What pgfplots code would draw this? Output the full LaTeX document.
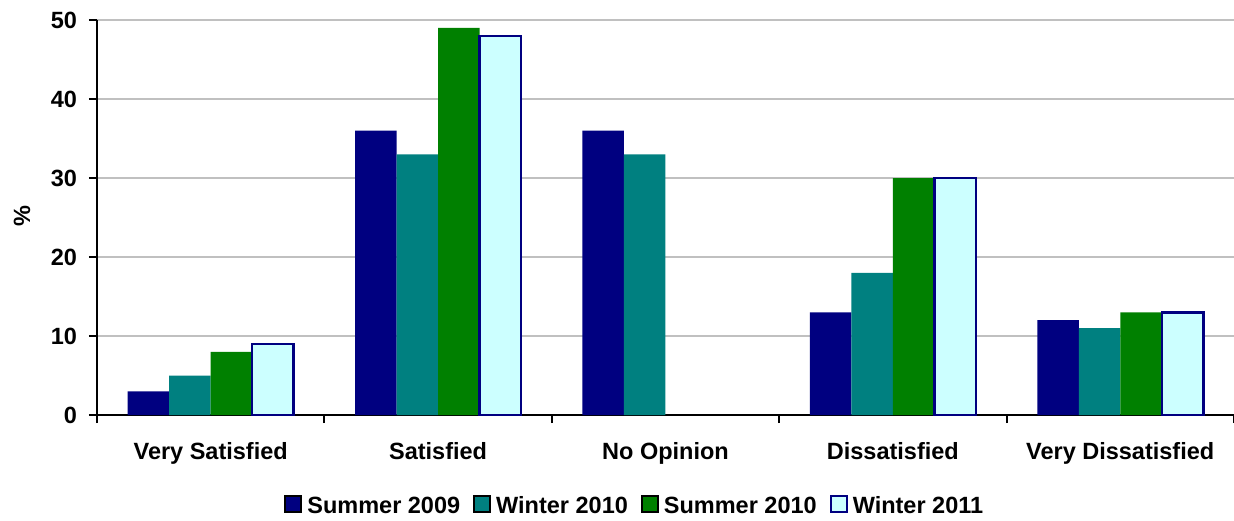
\documentclass[border=0pt]{standalone}
\usepackage{fontspec}
\setmainfont{Liberation Sans}
\usepackage{pgfplots}
\pgfplotsset{compat=1.18}

\definecolor{sumA}{HTML}{000080}
\definecolor{winA}{HTML}{008080}
\definecolor{sumB}{HTML}{008000}
\definecolor{winB}{HTML}{CCFFFF}
\definecolor{gridgray}{HTML}{C0C0C0}

\begin{document}
\fontsize{23.5pt}{28pt}\selectfont\bfseries
\begin{tikzpicture}
\begin{axis}[
  at={(97pt,105pt)}, anchor=south west,
  scale only axis, width=1137pt, height=395pt,
  xmin=-0.5, xmax=4.5, ymin=0, ymax=50,
  ybar=0pt, bar width=41.5pt,
  axis x line*=bottom, axis y line*=left,
  axis line style={-, black, line width=2.5pt},
  ytick={0,10,...,50},
  ymajorgrids, major grid style={gridgray, line width=2pt},
  xtick={0,...,4},
  xticklabels={Very Satisfied, Satisfied, No Opinion, Dissatisfied, Very Dissatisfied},
  minor xtick={-0.5,0.5,...,4.5},
  major x tick style={draw=none},
  tick align=outside,
  major tick length=8pt, minor tick length=8pt,
  every tick/.style={black, line width=2pt},
  /pgf/number format/assume math mode=true,
  xticklabel style={yshift=-11pt},
  yticklabel style={xshift=-4pt},
  ylabel={\%},
  ylabel style={at={(axis description cs:-0.066,0.504)}, anchor=center},
  legend style={at={(0.473,-0.233)}, anchor=center, draw=none, fill=none,
    legend columns=4,
    /tikz/every odd column/.append style={column sep=3pt},
    /tikz/every even column/.append style={column sep=11pt}},
  legend image code/.code={\draw[#1, line width=2pt] (0pt,-5pt) rectangle (16pt,11pt);},
]
\addplot[fill=sumA, draw=none] coordinates {(0,3) (1,36) (2,36) (3,13) (4,12)};
\addplot[fill=winA, draw=none] coordinates {(0,5) (1,33) (2,33) (3,18) (4,11)};
\addplot[fill=sumB, draw=none] coordinates {(0,8) (1,49) (3,30) (4,13)};
\addplot[fill=winB, draw=sumA, line width=2.5pt] coordinates {(0,9) (1,48) (3,30) (4,13)};
\legend{Summer 2009, Winter 2010, Summer 2010, Winter 2011}
\end{axis}
\pgfresetboundingbox
\useasboundingbox (0,0) rectangle (1234pt,520pt);
\end{tikzpicture}
\end{document}
